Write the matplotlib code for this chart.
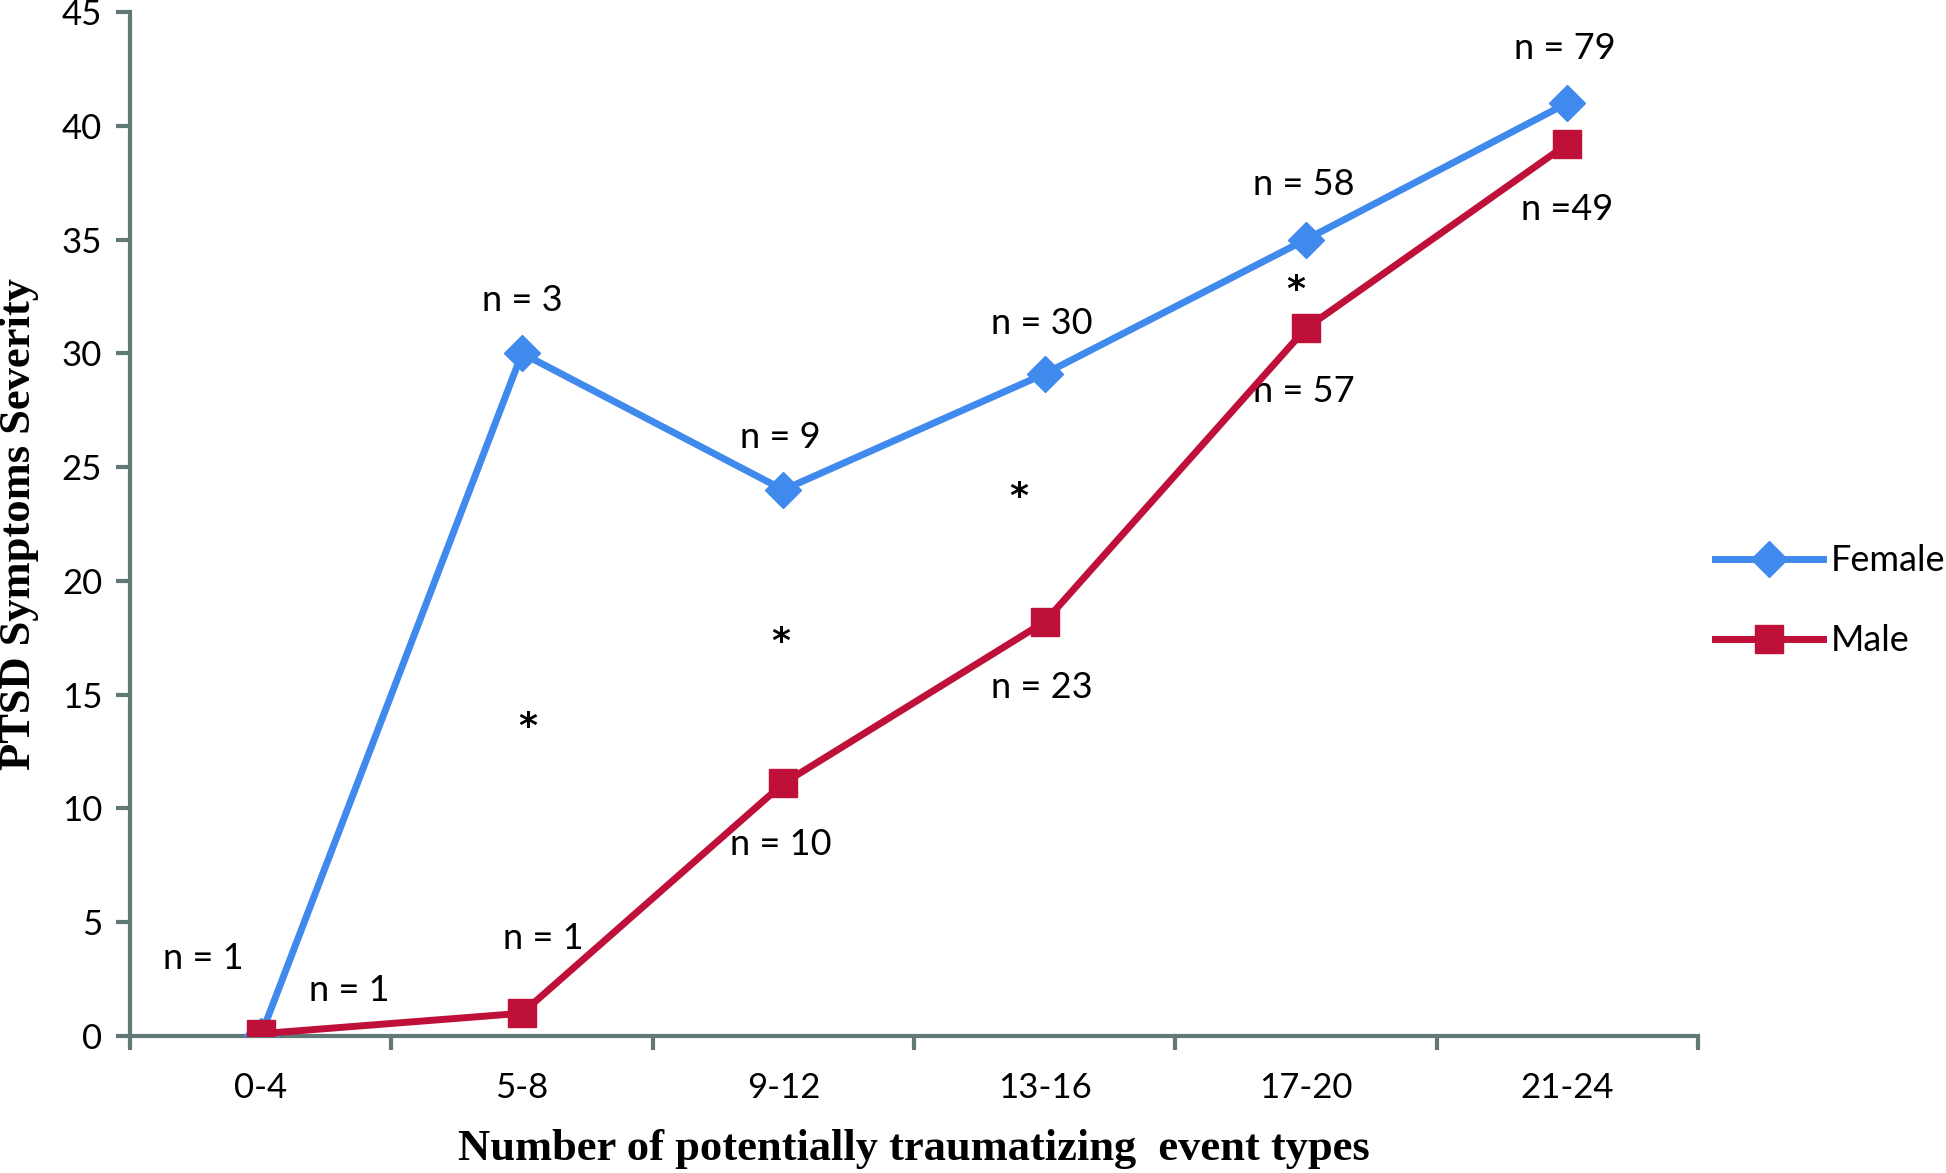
import matplotlib
matplotlib.use("Agg")
import matplotlib.pyplot as plt
from matplotlib.ticker import FixedLocator, NullFormatter

categories = ["0-4", "5-8", "9-12", "13-16", "17-20", "21-24"]
female = [0, 30, 24, 29.1, 35, 41]
male = [0.1, 1.0, 11.1, 18.2, 31.1, 39.2]
y_ticks = [0, 5, 10, 15, 20, 25, 30, 35, 40, 45]

# annotations: (text, x in category units, y in data units)
n_labels = [
    ("n = 1", -0.22, 3.4), ("n = 1", 0.34, 2.0),
    ("n = 3", 1.0, 32.3), ("n = 1", 1.08, 4.3),
    ("n = 9", 1.99, 26.3), ("n = 10", 1.99, 8.4),
    ("n = 30", 2.99, 31.3), ("n = 23", 2.99, 15.3),
    ("n = 58", 3.99, 37.4), ("n = 57", 3.99, 28.3),
    ("n = 79", 4.99, 43.4), ("n =49", 5.0, 36.3),
]
stars = [(1.02, 13.6), (1.99, 17.3), (2.9, 23.7), (3.96, 32.8)]

tick_font = "Lato"
blue = "#3F8AEC"
red = "#BE1038"
spine_c = "#607876"

fig = plt.figure(figsize=(19.46, 11.73), dpi=100)
ax = fig.add_axes([0.0668, 0.1168, 0.8058, 0.873])

x = list(range(len(categories)))
ax.plot(x, female, color=blue, lw=5, marker="D", markersize=18, label="Female", zorder=3)
ax.plot(x, male, color=red, lw=5, marker="s", markersize=20, label="Male", zorder=4)

for t, xx, yy in n_labels:
    ax.text(xx, yy, t, ha="center", va="center", fontsize=26, family=tick_font)
for xx, yy in stars:
    ax.text(xx, yy, "*", ha="center", va="center", fontsize=26,
            family="DejaVu Sans", fontweight="bold")

ax.set_xlim(-0.5, 5.5)
ax.set_ylim(0, 45)
ax.set_xticks(x)
ax.set_xticklabels(categories, fontsize=25, family=tick_font)
ax.xaxis.set_minor_locator(FixedLocator([i - 0.5 for i in range(len(categories) + 1)]))
ax.xaxis.set_minor_formatter(NullFormatter())
ax.tick_params(axis="x", which="major", length=0, pad=26)
ax.tick_params(axis="x", which="minor", length=10, width=3, color=spine_c, direction="out")
ax.set_yticks(y_ticks)
ax.set_yticklabels([str(v) for v in y_ticks], fontsize=25, family=tick_font)
ax.tick_params(axis="y", length=10, width=3, color=spine_c, direction="out", pad=10)

for s in ["top", "right"]:
    ax.spines[s].set_visible(False)
for s in ["left", "bottom"]:
    ax.spines[s].set_color(spine_c)
    ax.spines[s].set_linewidth(3)

ax.set_xlabel("Number of potentially traumatizing  event types", fontsize=32,
              family="Liberation Serif", fontweight="bold", labelpad=18)
ax.set_ylabel("PTSD Symptoms Severity", fontsize=32,
              family="Liberation Serif", fontweight="bold", labelpad=16)

leg = ax.legend(loc="center left", bbox_to_anchor=(0.99, 0.425), frameon=False,
                prop={"family": tick_font, "size": 26}, handlelength=3.0,
                handletextpad=0.2, labelspacing=1.3)

fig.savefig("out.png", dpi=100)
